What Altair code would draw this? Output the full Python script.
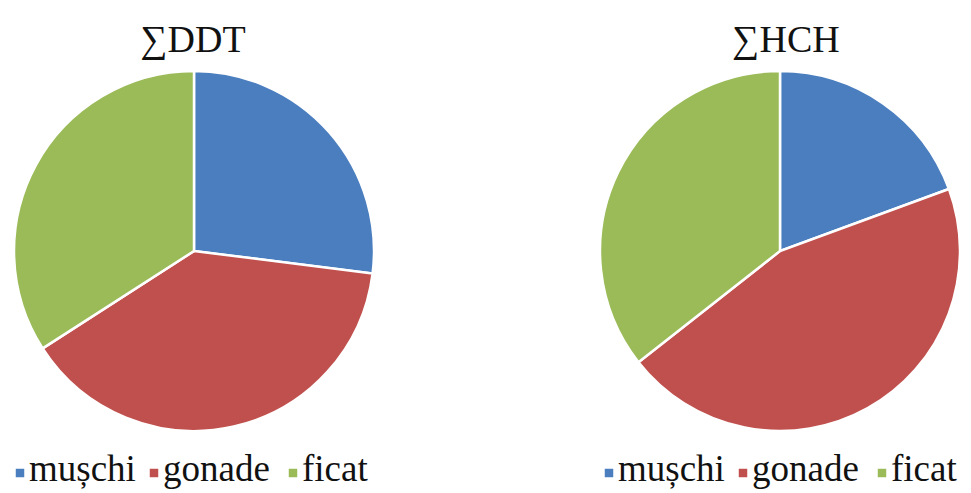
import altair as alt
import pandas as pd

categories = ["mușchi", "gonade", "ficat"]
ddt_values = [27.0, 38.9, 34.1]
hch_values = [19.4, 45.0, 35.6]
titles = ["∑DDT", "∑HCH"]
colors = ["#4a7ebf", "#c0504d", "#9bbb59"]

FONT = "Liberation Serif"
R = 180
CENTERS = [(194, 251), (780, 251)]
TITLE_X = [193, 786]
LEGEND_X0 = [20, 609]
LEGEND_STEP = [0, 134, 273]
LEGEND_Y = 471

color_scale = alt.Scale(domain=categories, range=colors)

def panel_df(vals):
    return pd.DataFrame({"cat": categories, "value": vals, "order": list(range(len(categories)))})

def pie(vals, cx, cy):
    return alt.Chart(panel_df(vals)).mark_arc(radius=R, stroke="white", strokeWidth=2.5).encode(
        x=alt.value(cx),
        y=alt.value(cy),
        theta=alt.Theta("value:Q", stack=True),
        order=alt.Order("order:Q"),
        color=alt.Color("cat:N", scale=color_scale, legend=None),
    )

def title_text(t, cx):
    return alt.Chart(pd.DataFrame({"t": [t]})).mark_text(
        font=FONT, fontSize=38, color="#111", baseline="alphabetic", align="center"
    ).encode(x=alt.value(cx), y=alt.value(52), text="t:N")

legend_df = pd.DataFrame({
    "cat": categories * 2,
    "pos": [x0 + s for x0 in LEGEND_X0 for s in LEGEND_STEP],
})

legend_sq = alt.Chart(legend_df).mark_square(size=72, opacity=1).encode(
    x=alt.X("pos:Q", scale=None, axis=None),
    y=alt.value(LEGEND_Y + 2),
    color=alt.Color("cat:N", scale=color_scale, legend=None),
)
legend_txt = alt.Chart(legend_df).mark_text(
    font=FONT, fontSize=37, color="#111", align="left", baseline="middle", dx=9, dy=-1
).encode(
    x=alt.X("pos:Q", scale=None, axis=None),
    y=alt.value(LEGEND_Y),
    text="cat:N",
)

chart = alt.layer(
    pie(ddt_values, *CENTERS[0]),
    pie(hch_values, *CENTERS[1]),
    title_text(titles[0], TITLE_X[0]),
    title_text(titles[1], TITLE_X[1]),
    legend_sq,
    legend_txt,
).resolve_scale(theta="independent").properties(
    width=971, height=493, autosize=alt.AutoSizeParams(type="none"), padding=0, background="white"
).configure_view(stroke=None)

chart.save("out.html", embed_options={"renderer": "svg", "actions": False})
